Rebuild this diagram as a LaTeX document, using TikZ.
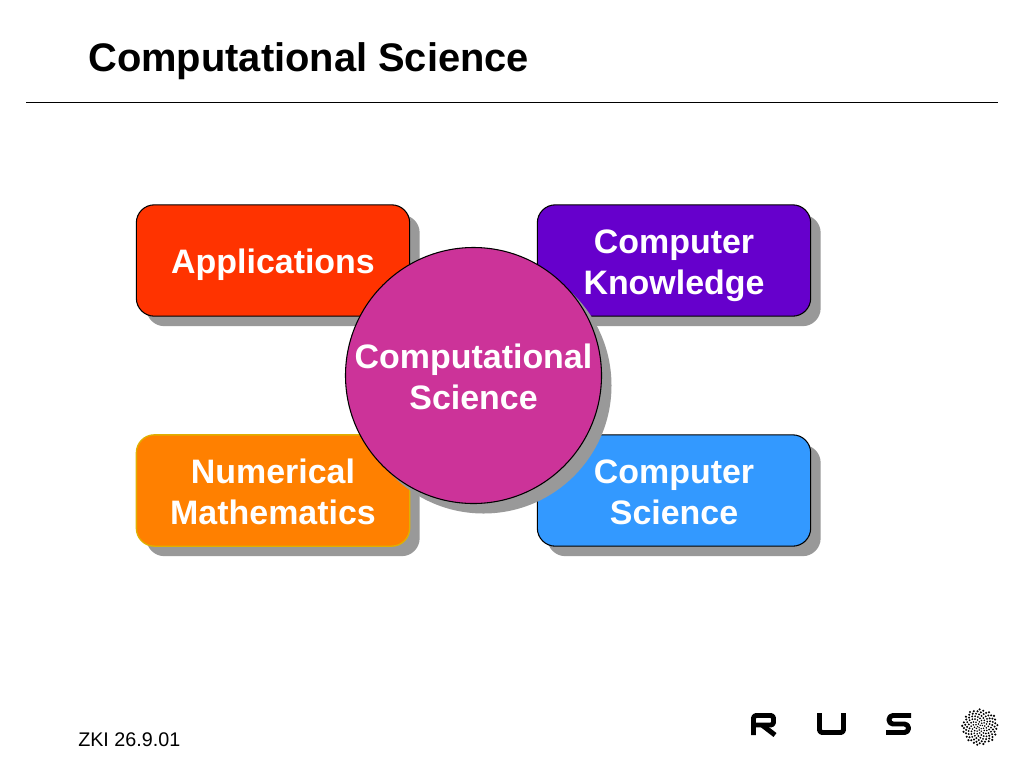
\documentclass[tikz,border=0pt]{standalone}
\usepackage{fontspec}
\setmainfont{Liberation Sans}
\definecolor{shadowgray}{HTML}{999999}
\definecolor{redbox}{HTML}{FF3300}
\definecolor{purplebox}{HTML}{6600CC}
\definecolor{orangebox}{HTML}{FF8000}
\definecolor{orangeline}{HTML}{E0B000}
\definecolor{bluebox}{HTML}{3399FF}
\definecolor{magentacircle}{HTML}{CC3399}
\newcommand{\labelfont}{\fontsize{25.45pt}{30.8pt}\selectfont\bfseries}
\tikzset{
  box/.style={rectangle,rounded corners=13.5pt,minimum width=205pt,minimum height=83.5pt,draw=black,line width=0.8pt,inner sep=0pt},
  shadowbox/.style={rectangle,rounded corners=13.5pt,minimum width=205pt,minimum height=83.5pt,fill=shadowgray,draw=none},
  boxlabel/.style={text=white,align=center,font=\labelfont,inner sep=0pt},
  logoline/.style={line width=3.7pt,line cap=butt,line join=round,draw=black}
}
\begin{document}
\begin{tikzpicture}[x=0.75pt,y=-0.75pt]
\useasboundingbox (0,0) rectangle (1024,768);
\fill[white] (0,0) rectangle (1024,768);
% title
\node[anchor=base west,inner sep=0pt,font=\fontsize{29.9pt}{34pt}\selectfont\bfseries] (title) at (88,71) {Computational Science};
\coordinate (ruleL) at (26,102.5);
\coordinate (ruleR) at (998,102.5);
\draw[line width=1pt] (ruleL) -- (ruleR);
% shadows
\node[shadowbox] (s1) at (283,270.5) {};
\node[shadowbox] (s2) at (684,270.5) {};
\node[shadowbox] (s3) at (283,500.5) {};
\node[shadowbox] (s4) at (684,500.5) {};
% boxes
\node[box,fill=redbox] (app) at (273,260.5) {};
\node[box,fill=purplebox] (know) at (674,260.5) {};
\node[box,fill=orangebox,draw=orangeline,line width=1pt] (num) at (273,490.5) {};
\node[box,fill=bluebox] (cs) at (674,490.5) {};
% circle
\node[circle,minimum size=192pt,inner sep=0pt,fill=shadowgray] (cshadow) at (483.5,385.5) {};
\node[circle,minimum size=192pt,inner sep=0pt,fill=magentacircle,draw=black,line width=0.8pt] (circ) at (473.5,375.5) {};
% labels
\node[boxlabel] (appt) at (273,265) {Applications};
\node[boxlabel] (knowt) at (674,266) {Computer\\Knowledge};
\node[boxlabel] (numt) at (273,491.5) {Numerical\\Mathematics};
\node[boxlabel] (cst) at (674,492.5) {Computer\\Science};
\node[boxlabel] (circt) at (473.5,376.5) {Computational\\Science};
% footer
\node[anchor=base west,inner sep=0pt,font=\fontsize{14.8pt}{17pt}\selectfont] (foot) at (78,746) {ZKI 26.9.01};
% RUS logo
\draw[logoline,rounded corners=2pt] (753.5,735) -- (753.5,715.5) -- (773.5,715.5) -- (773.5,725) -- (753.5,725);
\draw[logoline] (762,725) -- (775,735);
\draw[logoline,rounded corners=2pt] (819.5,713) -- (819.5,732.5) -- (843.5,732.5) -- (843.5,713);
\draw[logoline,rounded corners=3pt] (911,715.5) -- (889,715.5) -- (889,724) -- (908.5,724) -- (908.5,732.5) -- (886,732.5);
% sunflower
\foreach \i in {1,...,130}{
  \pgfmathsetmacro{\rr}{1.1*pow(\i,0.575)}
  \pgfmathsetmacro{\tt}{\i*0.381966}
  \pgfmathsetmacro{\aa}{360*(\tt-floor(\tt))}
  \pgfmathsetmacro{\ds}{0.55+0.35*\rr/18}
  \fill[black] ({980+\rr*cos(\aa)},{727+\rr*sin(\aa)}) circle[radius=\ds pt];
}
\end{tikzpicture}
\end{document}
